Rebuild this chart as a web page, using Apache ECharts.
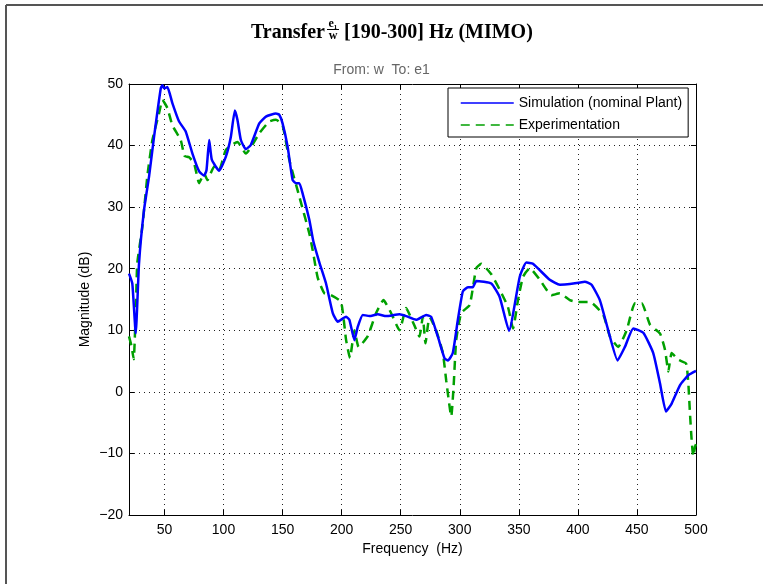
<!DOCTYPE html>
<html>
<head>
<meta charset="utf-8">
<title>Transfer e1/w</title>
<script src="https://cdn.jsdelivr.net/npm/echarts@6/dist/echarts.min.js"></script>
<style>
  html, body { margin: 0; padding: 0; background: #fff; }
  #chart { width: 763px; height: 584px; }
</style>
</head>
<body>
<div id="chart"></div>
<script>
// Simulation (nominal Plant)
const simFreq = [20, 22.8, 25.7, 28.5, 32.7, 37, 41.2, 46.9, 48.3, 49.7, 52.5, 56.7, 62.4, 68, 73.7, 79.4, 83.6, 85.6, 87.9, 90.1,
  96.3, 102, 106.2, 109.6, 111.8, 114.7, 118.9, 123.1, 130.3, 135.9, 144.4, 147.2, 150, 154.3, 158.5, 161.4, 164.2, 167, 172.7, 176,
  181.2, 186.8, 192.5, 196.7, 203.8, 206.6, 210.8, 213.7, 217.9, 223.6, 230.6, 237.7, 249, 254.6, 263.1, 271.6, 275.8, 281.4, 287.2, 290,
  294.1, 298.4, 302.6, 306.9, 311.1, 314, 326.7, 333.8, 341.7, 350.8, 356.4, 362, 376.2, 384.7, 393.2, 405.9, 411.6, 418.6, 425.7, 433.6,
  439.8, 446.9, 455.4, 463.8, 469.5, 474.6, 479.4, 486.5, 493.5, 500]
const simMag = [19.2, 17.6, 9.5, 20.9, 29.5, 35, 41.4, 49.3, 49.8, 49.3, 49.5, 46.9, 43.9, 42.3, 38.7, 35.8, 35.1, 36, 40.9, 37.7,
  35.9, 38.2, 41.4, 45.7, 44.2, 40.9, 39.4, 40.1, 43.6, 44.7, 45.2, 45, 43.6, 39.8, 34.4, 33.9, 33.9, 32.2, 27.9, 24.5,
  21, 17.6, 12.8, 11.4, 12.2, 11.7, 8.4, 10.6, 12.5, 12.3, 12.6, 12.3, 12.6, 12.3, 11.7, 12.5, 12.2, 9, 5.4, 5.1,
  6.3, 11.7, 16.3, 17, 17, 18, 17.6, 15.4, 9.9, 18.7, 21, 20.8, 18.2, 17.4, 17.5, 17.9, 17.4, 14.9, 10, 5.1,
  7.3, 10.3, 9.6, 6.3, 1.4, -3.2, -1.9, 1.1, 2.7, 3.4]

// Experimentation
const expFreq = [20, 22, 24, 26, 27, 31.3, 35.5, 39.8, 45.4, 48.3, 52.5, 56.7, 63.8, 67, 70.9, 75.1, 79.4, 83.6, 86.4, 92.1,
  96.3, 102, 111.8, 118.9, 130.3, 138.7, 144.4, 150, 155.7, 164.2, 172.7, 175.5, 179.8, 185.4, 191, 199.5, 203.8, 207.1, 210.8, 214.4,
  222, 229.2, 235.4, 241.9, 249, 254.6, 260.2, 265.9, 268.7, 271, 274.4, 280, 285.7, 288.5, 292.8, 294.8, 297, 301.2, 308.4, 314,
  318.2, 326.7, 333.8, 340.8, 345.1, 349.3, 353.6, 359.3, 367.8, 377.6, 384.7, 393.2, 400.2, 410.2, 421.5, 427.1, 434.2, 441.3, 448.3, 454,
  461.1, 469.5, 473.8, 476.6, 479.4, 485.1, 491.6, 493.5, 494.9, 496.3, 497.7, 499.2, 500]
const expMag = [9, 7.5, 5.3, 15, 20.9, 26.8, 35, 40.9, 45.2, 47.4, 46.1, 43.3, 40.9, 38.3, 38.1, 37.1, 33.9, 35.5, 34.4, 36.6,
  36, 39.3, 40.6, 38.7, 42, 43.9, 44.2, 43.3, 37.7, 31.7, 25.7, 23, 18.5, 16, 15.7, 14.6, 8.4, 5.5, 10, 7.3,
  9, 12.8, 14.9, 12.8, 10, 13.6, 11.4, 9, 12.2, 7.9, 12.2, 10, 6.3, 1.9, -4, 0.9, 8.4, 12.8, 14.1, 20.1,
  20.8, 19.1, 16.6, 13.8, 10.3, 14.9, 18.7, 20.1, 18.2, 15.7, 16, 14.9, 14.6, 14.6, 12.5, 9, 7.3, 10, 14.4, 14.4,
  10.9, 9.5, 6.8, 3.3, 6.3, 5.2, 4.6, 1.4, -3.5, -7.8, -10.5, -8.9, -8.5]

// Tick labels
const freqTicks = [50, 100, 150, 200, 250, 300, 350, 400, 450, 500]

const chart = echarts.init(document.getElementById('chart'))

const sansFont = '"Liberation Sans", Arial, sans-serif'
const serifFont = '"Liberation Serif", "Times New Roman", serif'
const minusSign = v => String(v).replace('-', '\u2212')

const gridLine = { show: true, lineStyle: { color: '#222', width: 1, type: [1, 4] } }
const frameLine = { show: true, onZero: false, lineStyle: { color: '#000', width: 1 } }

chart.setOption({
  animation: false,
  backgroundColor: '#fff',
  title: {
    text: 'From: w  To: e1',
    left: 'center',
    top: 58,
    textStyle: { fontFamily: sansFont, fontSize: 14, fontWeight: 'normal', color: '#666' }
  },
  legend: {
    orient: 'vertical',
    left: 448,
    top: 88,
    padding: [8, 6, 5, 12],
    itemWidth: 53,
    itemHeight: 14,
    itemGap: 8,
    borderColor: '#000',
    borderWidth: 1,
    borderRadius: 0,
    backgroundColor: '#fff',
    itemStyle: { opacity: 0 },
    lineStyle: { width: 1.5 },
    textStyle: { fontFamily: sansFont, fontSize: 14, color: '#000' },
    data: ['Simulation (nominal Plant)', 'Experimentation']
  },
  grid: { left: 129, right: 67, top: 84, bottom: 69 },
  xAxis: [
    {
      type: 'value',
      min: 20,
      max: 500,
      name: 'Frequency  (Hz)',
      nameLocation: 'middle',
      nameGap: 26,
      nameTextStyle: { fontFamily: sansFont, fontSize: 14, color: '#000' },
      axisLine: frameLine,
      axisTick: { show: true, inside: true, length: 5, customValues: freqTicks, lineStyle: { color: '#000' } },
      axisLabel: { customValues: freqTicks, margin: 8, fontFamily: sansFont, fontSize: 14, color: '#000' },
      splitLine: gridLine
    },
    {
      type: 'value',
      position: 'top',
      min: 20,
      max: 500,
      axisLine: frameLine,
      axisTick: { show: true, inside: true, length: 5, customValues: freqTicks, lineStyle: { color: '#000' } },
      axisLabel: { show: false },
      splitLine: { show: false }
    }
  ],
  yAxis: [
    {
      type: 'value',
      min: -20,
      max: 50,
      interval: 10,
      name: 'Magnitude (dB)',
      nameLocation: 'middle',
      nameGap: 37,
      nameMoveOverlap: false,
      nameTextStyle: { fontFamily: sansFont, fontSize: 14, color: '#000' },
      axisLine: frameLine,
      axisTick: { show: true, inside: true, length: 5, lineStyle: { color: '#000' } },
      axisLabel: { margin: 6, fontFamily: sansFont, fontSize: 14, color: '#000', formatter: minusSign },
      splitLine: gridLine
    },
    {
      type: 'value',
      position: 'right',
      min: -20,
      max: 50,
      interval: 10,
      axisLine: frameLine,
      axisTick: { show: true, inside: true, length: 5, lineStyle: { color: '#000' } },
      axisLabel: { show: false },
      splitLine: { show: false }
    }
  ],
  series: [
    {
      name: 'Simulation (nominal Plant)',
      type: 'line',
      showSymbol: false,
      symbol: 'none',
      smooth: 0.15,
      z: 3,
      lineStyle: { color: '#0000ff', width: 2.5 },
      itemStyle: { color: '#0000ff' },
      data: simFreq.map((f, i) => [f, simMag[i]])
    },
    {
      name: 'Experimentation',
      type: 'line',
      showSymbol: false,
      symbol: 'none',
      smooth: 0.15,
      z: 2,
      lineStyle: { color: '#00a000', width: 2.5, type: [9, 6] },
      itemStyle: { color: '#00a000' },
      data: expFreq.map((f, i) => [f, expMag[i]])
    }
  ],
  graphic: [
    // figure frame (top and left edges)
    { type: 'line', shape: { x1: 6, y1: 5, x2: 763, y2: 5 }, style: { stroke: '#555', lineWidth: 2 } },
    { type: 'line', shape: { x1: 6, y1: 5, x2: 6, y2: 584 }, style: { stroke: '#555', lineWidth: 2 } },
    // title: Transfer e1/w [190-300] Hz (MIMO)
    {
      type: 'group',
      children: [
        { type: 'text', x: 325, y: 33, style: { text: 'Transfer', font: 'bold 20px ' + serifFont, fill: '#000', align: 'right', verticalAlign: 'middle' } },
        { type: 'text', x: 333, y: 24, style: { text: 'e\u2081', font: 'bold 12px ' + serifFont, fill: '#000', align: 'center', verticalAlign: 'middle' } },
        { type: 'line', shape: { x1: 327, y1: 29.5, x2: 339, y2: 29.5 }, style: { stroke: '#000', lineWidth: 1 } },
        { type: 'text', x: 333, y: 36, style: { text: 'w', font: 'bold 12px ' + serifFont, fill: '#000', align: 'center', verticalAlign: 'middle' } },
        { type: 'text', x: 344, y: 33, style: { text: '[190-300] Hz (MIMO)', font: 'bold 20px ' + serifFont, fill: '#000', align: 'left', verticalAlign: 'middle' } }
      ]
    }
  ]
})

window.addEventListener('resize', () => {
  chart.resize()
})
</script>
</body>
</html>
